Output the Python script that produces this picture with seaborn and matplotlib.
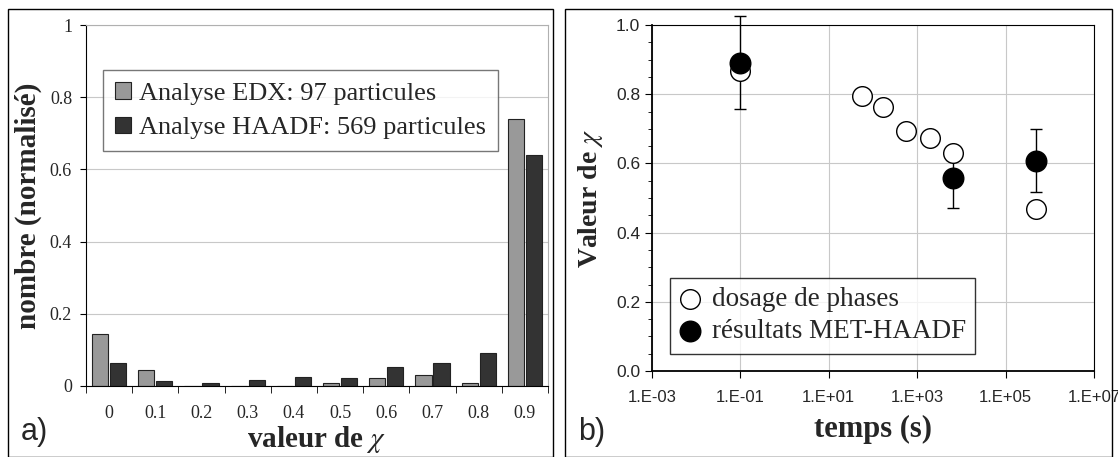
import numpy as np
import pandas as pd
import matplotlib
matplotlib.use("Agg")
import matplotlib.pyplot as plt
from matplotlib.patches import Rectangle
from matplotlib.ticker import FixedLocator, MultipleLocator, NullLocator
import seaborn as sns

# données panneau a)
chi_labels = ['0', '0.1', '0.2', '0.3', '0.4', '0.5', '0.6', '0.7', '0.8', '0.9']
edx = [0.144, 0.044, 0.0, 0.0, 0.0, 0.008, 0.022, 0.030, 0.008, 0.740]
haadf = [0.064, 0.015, 0.009, 0.018, 0.026, 0.023, 0.054, 0.065, 0.092, 0.640]
series_names = ['Analyse EDX: 97 particules', 'Analyse HAADF: 569 particules']

# données panneau b)
t_dosage = [0.1, 57, 166, 556, 1940, 6600, 5.0e5]
chi_dosage = [0.868, 0.795, 0.764, 0.694, 0.673, 0.629, 0.468]
t_haadf = [0.1, 6600, 5.0e5]
chi_haadf = [0.891, 0.558, 0.608]
err_haadf = [0.134, 0.087, 0.090]

sns.set_style("white")
plt.rcParams['font.family'] = ['Liberation Serif', 'DejaVu Serif']
plt.rcParams['mathtext.fontset'] = 'stix'

fig = plt.figure(figsize=(11.18, 4.57), dpi=100)
W, H = 1118, 457

# cadres des deux panneaux
for x0, x1 in [(8, 553), (565, 1112)]:
    fig.patches.append(Rectangle((x0 / W, 0), (x1 - x0) / W, (H - 9) / H,
                                 transform=fig.transFigure, fill=False,
                                 edgecolor='black', linewidth=1.0))

# ---- panneau a) ----
ax1 = fig.add_axes([86 / W, 1 - 386 / H, (548 - 86) / W, (386 - 25) / H])
df = pd.DataFrame({
    'chi': chi_labels * 2,
    'val': edx + haadf,
    'serie': [series_names[0]] * len(edx) + [series_names[1]] * len(haadf),
})
sns.barplot(data=df, x='chi', y='val', hue='serie', ax=ax1,
            palette=['#999999', '#333333'], width=0.78, gap=0.1,
            edgecolor='#222222', linewidth=0.8)
ax1.set_ylim(0, 1)
ax1.set_xlim(-0.5, 9.5)
ax1.set_yticks([0, 0.2, 0.4, 0.6, 0.8, 1.0])
ax1.set_yticklabels(['0', '0.2', '0.4', '0.6', '0.8', '1'], fontsize=13)
ax1.set_xticks(range(10))
ax1.set_xticklabels(chi_labels, fontsize=13)
ax1.xaxis.set_minor_locator(FixedLocator(np.arange(-0.5, 10, 1)))
ax1.tick_params(axis='x', which='major', length=0, pad=14)
ax1.tick_params(axis='x', which='minor', length=5, direction='out', bottom=True, color='black')
ax1.tick_params(axis='y', length=4, direction='out', left=True, color='black', pad=6)
ax1.yaxis.grid(True, color='#c8c8c8', linewidth=0.8)
ax1.set_axisbelow(True)
for s in ['top', 'right']:
    ax1.spines[s].set_color('#b0b0b0')
for s in ['left', 'bottom']:
    ax1.spines[s].set_color('black')
ax1.set_xlabel(r'valeur de $\chi$', fontsize=21, fontweight='bold', labelpad=1)
ax1.set_ylabel('nombre (normalisé)', fontsize=21, fontweight='bold', labelpad=6)
leg1 = ax1.legend(loc='upper left', bbox_to_anchor=(0.037, 0.875), fontsize=19,
                  frameon=True, fancybox=False, edgecolor='#555555',
                  handlelength=0.6, handleheight=0.6, handletextpad=0.3,
                  borderpad=0.45, labelspacing=0.45, borderaxespad=0, title=None)
leg1.get_frame().set_linewidth(1.0)
fig.text(21 / W, 1 - 432 / H, 'a)', fontsize=22, va='center', ha='left',
         family=['Liberation Sans'])

# ---- panneau b) ----
ax2 = fig.add_axes([652 / W, 1 - 371 / H, (1094 - 652) / W, (371 - 25) / H])
eb = ax2.errorbar(t_haadf, chi_haadf, yerr=err_haadf, fmt='none', ecolor='black',
                  elinewidth=1.0, capsize=4, capthick=1.0, zorder=2)
# la barre d'erreur du premier point dépasse le haut du cadre
for art in eb.lines[1] + eb.lines[2]:
    art.set_clip_on(False)
sns.scatterplot(x=t_dosage, y=chi_dosage, ax=ax2, s=200, marker='o',
                facecolor='white', edgecolor='black', linewidth=1.0, zorder=3,
                label='dosage de phases')
sns.scatterplot(x=t_haadf, y=chi_haadf, ax=ax2, s=220, marker='o',
                color='black', edgecolor='black', linewidth=1.0, zorder=4,
                label='résultats MET-HAADF')
ax2.set_xscale('log')
ax2.set_xlim(1e-3, 1e7)
ax2.set_ylim(0, 1.0)
ax2.xaxis.set_major_locator(FixedLocator([1e-3, 1e-1, 1e1, 1e3, 1e5, 1e7]))
ax2.xaxis.set_minor_locator(NullLocator())
ax2.set_xticklabels(['1.E-03', '1.E-01', '1.E+01', '1.E+03', '1.E+05', '1.E+07'],
                    family=['Liberation Sans'], fontsize=12)
ax2.yaxis.set_major_locator(MultipleLocator(0.2))
ax2.yaxis.set_minor_locator(MultipleLocator(0.05))
ax2.set_yticklabels([f'{v:.1f}' for v in ax2.get_yticks()],
                    family=['Liberation Sans'], fontsize=12.5)
ax2.tick_params(axis='both', which='major', length=5, direction='out',
                left=True, bottom=True, color='black')
ax2.tick_params(axis='x', pad=9)
ax2.tick_params(axis='y', which='minor', length=3, direction='out', left=True, color='black')
ax2.grid(True, which='major', color='#c8c8c8', linewidth=0.8)
ax2.set_axisbelow(True)
for s in ax2.spines.values():
    s.set_color('black')
ax2.spines['left'].set_linewidth(1.3)
ax2.spines['bottom'].set_linewidth(1.3)
ax2.set_xlabel('temps (s)', fontsize=22, fontweight='bold', labelpad=7)
ax2.set_ylabel(r'Valeur de $\chi$', fontsize=20, fontweight='bold', labelpad=8)
leg2 = ax2.legend(loc='lower left', bbox_to_anchor=(0.04, 0.05), fontsize=19.5,
                  frameon=True, fancybox=False, edgecolor='black',
                  handlelength=0.8, handletextpad=0.4, borderpad=0.35,
                  labelspacing=0.25, borderaxespad=0)
leg2.get_frame().set_linewidth(1.0)
fig.text(578 / W, 1 - 432 / H, 'b)', fontsize=22, va='center', ha='left',
         family=['Liberation Sans'])

fig.savefig('out.png', dpi=100)
